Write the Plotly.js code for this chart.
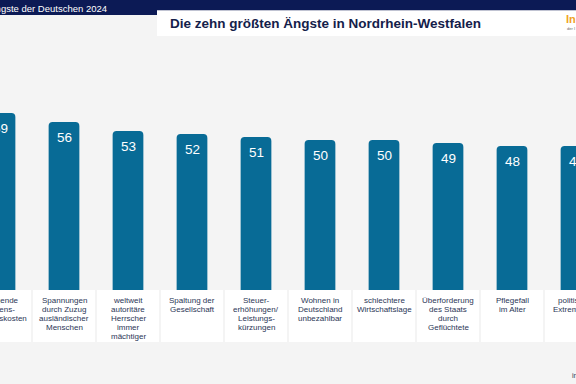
<!DOCTYPE html>
<html>
<head>
<meta charset="utf-8">
<script src="https://cdn.plot.ly/plotly-3.0.1.min.js"></script>
<style>
  html, body { margin: 0; padding: 0; background: #f4f4f4; }
  #chart { width: 576px; height: 384px; }
</style>
</head>
<body>
<div id="chart"></div>
<script>
// ---- data ----
const categories = [
  "Steigende<br>Lebens-<br>haltungskosten",
  "Spannungen<br>durch Zuzug<br>ausländischer<br>Menschen",
  "weltweit<br>autoritäre<br>Herrscher<br>immer<br>mächtiger",
  "Spaltung der<br>Gesellschaft",
  "Steuer-<br>erhöhungen/<br>Leistungs-<br>kürzungen",
  "Wohnen in<br>Deutschland<br>unbezahlbar",
  "schlechtere<br>Wirtschaftslage",
  "Überforderung<br>des Staats<br>durch<br>Geflüchtete",
  "Pflegefall<br>im Alter",
  "politischer<br>Extremismus"
];
const values = [59, 56, 53, 52, 51, 50, 50, 49, 48, 48];
const chartTitle = "Die zehn größten Ängste in Nordrhein-Westfalen";
const headerText = "Die größten Ängste der Deutschen 2024";

// ---- layout helpers ----
const W = 576, H = 384;
const mT = 0, mB = 94;
const plotH = H - mT - mB;           // 290
const FONT = "Liberation Sans, Arial, sans-serif";
const NAVY = "#0c1a55";
const BAR = "#086b96";
const px = x => x / W;
const py = y => (plotH - y) / plotH;

const shapes = [];
const annotations = [];

// header band
shapes.push({type: "rect", xref: "paper", yref: "paper", x0: 0, x1: 1, y0: py(10.5), y1: py(0), fillcolor: NAVY, line: {width: 0}, layer: "above"});
shapes.push({type: "rect", xref: "paper", yref: "paper", x0: 0, x1: px(157), y0: py(15), y1: py(0), fillcolor: NAVY, line: {width: 0}, layer: "above"});
// white title box
shapes.push({type: "rect", xref: "paper", yref: "paper", x0: px(157), x1: 1, y0: py(36), y1: py(10.5), fillcolor: "#ffffff", line: {width: 0}, layer: "above"});

annotations.push({xref: "paper", yref: "paper", x: px(109), y: py(9), xanchor: "right", yanchor: "middle",
  text: headerText, showarrow: false, font: {family: FONT, size: 9.5, color: "#ffffff"}});
annotations.push({xref: "paper", yref: "paper", x: px(325.5), y: py(23), xanchor: "center", yanchor: "middle",
  text: chartTitle, showarrow: false, font: {family: FONT, size: 13.5, weight: "bold", color: "#14204a"}});
annotations.push({xref: "paper", yref: "paper", x: px(564), y: py(19), xanchor: "left", yanchor: "middle",
  text: "In", showarrow: false, font: {family: FONT, size: 11, weight: "bold", color: "#f0a21e"}});
annotations.push({xref: "paper", yref: "paper", x: px(564.5), y: py(28.5), xanchor: "left", yanchor: "middle",
  text: "der I", showarrow: false, font: {family: FONT, size: 4, color: "#666666"}});
annotations.push({xref: "paper", yref: "paper", x: px(570), y: py(375), xanchor: "left", yanchor: "middle",
  text: "in", showarrow: false, font: {family: FONT, size: 7, color: "#2b3656"}});

// label boxes + label lines + value labels
categories.forEach((c, i) => {
  const cx = i * 64;
  shapes.push({type: "rect", xref: "paper", yref: "paper", x0: px(cx - 31), x1: px(cx + 31),
    y0: py(342), y1: py(290), fillcolor: "#ffffff", line: {width: 0}, layer: "below"});
  c.split("<br>").forEach((line, k) => {
    annotations.push({xref: "x", yref: "y", x: i, y: 0, xanchor: "center", yanchor: "middle",
      yshift: -(10 + k * 9), text: line, showarrow: false,
      font: {family: FONT, size: 8, color: "#2b3656"}});
  });
  annotations.push({xref: "x", yref: "y", x: i, y: values[i], xanchor: "center", yanchor: "top",
    yshift: -6, text: String(values[i]), showarrow: false,
    font: {family: FONT, size: 13.5, color: "#ffffff"}});
});

const trace = {
  type: "bar",
  x: categories,
  y: values,
  marker: {color: BAR, line: {width: 0}},
  width: 0.48,
  hoverinfo: "skip"
};

const layout = {
  width: W, height: H,
  margin: {l: 0, r: 0, t: mT, b: mB, pad: 0},
  paper_bgcolor: "#f4f4f4",
  plot_bgcolor: "#f4f4f4",
  barcornerradius: 4,
  showlegend: false,
  xaxis: {type: "category", range: [0, 9], showticklabels: false, showgrid: false, zeroline: false, showline: false, ticks: "", fixedrange: true},
  yaxis: {range: [0, plotH / 3], showticklabels: false, showgrid: false, zeroline: false, showline: false, ticks: "", fixedrange: true},
  shapes: shapes,
  annotations: annotations
};

Plotly.newPlot("chart", [trace], layout, {displayModeBar: false, staticPlot: true});
</script>
</body>
</html>
